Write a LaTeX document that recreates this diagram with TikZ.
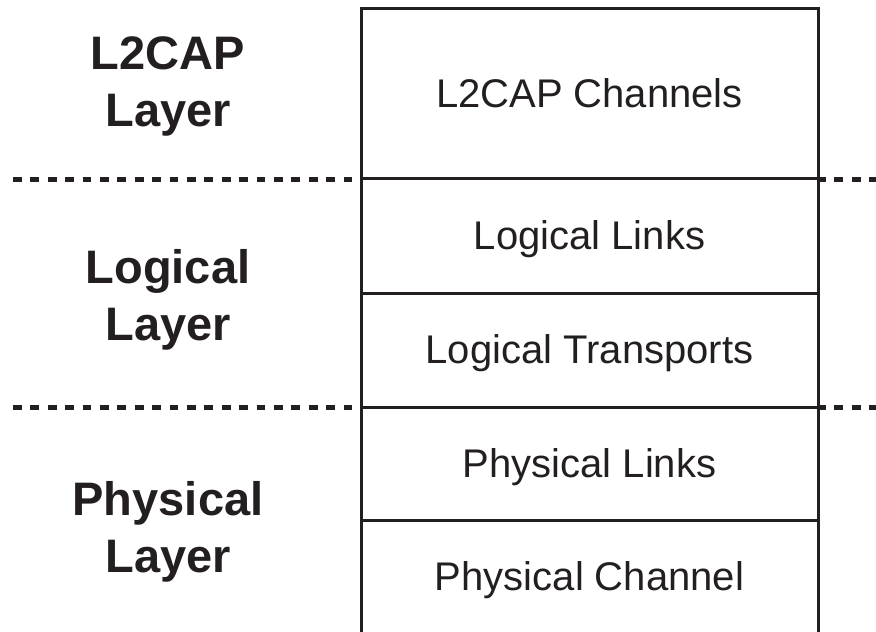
\documentclass[tikz,border=0pt]{standalone}
\usepackage{fontspec}
\setmainfont{Liberation Sans}
\definecolor{ink}{HTML}{231F20}
\begin{document}
\begin{tikzpicture}[x=1pt,y=-1pt,
  frame/.style={draw=ink,line width=3pt},
  divider/.style={draw=ink,line width=5pt,dash pattern=on 8.7pt off 8.7pt},
  cell/.style={inner sep=0pt,anchor=base,
    font=\fontsize{40}{48}\selectfont,text=ink},
  layer/.style={inner sep=0pt,anchor=north,align=center,
    font=\fontsize{47}{57.5}\selectfont\bfseries,text=ink}]
\useasboundingbox (0,0) rectangle (876,632);
\clip (0,0) rectangle (876,632);

% stack frame corners and row boundaries
\coordinate (tl) at (361,8);
\coordinate (tr) at (818,8);
\coordinate (bl) at (361,660);
\coordinate (br) at (818,660);
\coordinate (r1l) at (361,178); \coordinate (r1r) at (818,178);
\coordinate (r2l) at (361,293); \coordinate (r2r) at (818,293);
\coordinate (r3l) at (361,407); \coordinate (r3r) at (818,407);
\coordinate (r4l) at (361,520); \coordinate (r4r) at (818,520);

\draw[frame] (bl) -- (tl) -- (tr) -- (br);
\draw[frame] (r1l) -- (r1r);
\draw[frame] (r2l) -- (r2r);
\draw[frame] (r3l) -- (r3r);
\draw[frame] (r4l) -- (r4r);

% dotted layer separators
\coordinate (d1a) at (13,179);  \coordinate (d1b) at (355,179);
\coordinate (d1c) at (817,179); \coordinate (d1d) at (880,179);
\coordinate (d2a) at (13,407);  \coordinate (d2b) at (355,407);
\coordinate (d2c) at (817,407); \coordinate (d2d) at (880,407);
\draw[divider] (d1a) -- (d1b);
\draw[divider] (d1c) -- (d1d);
\draw[divider] (d2a) -- (d2b);
\draw[divider] (d2c) -- (d2d);

% stack entries (placed on their baselines)
\node[cell] (chan)   at (589.5,107)   {L2CAP Channels};
\node[cell] (llinks) at (589.5,249.5) {Logical Links};
\node[cell] (ltrans) at (589.5,363)   {Logical Transports};
\node[cell] (plinks) at (589.5,477.5) {Physical Links};
\node[cell] (pchan)  at (589.5,590)   {Physical Channel};

% layer names
\node[layer] (l2cap)    at (168,36)  {L2CAP\\Layer};
\node[layer] (logical)  at (168,249) {Logical\\Layer};
\node[layer] (physical) at (168,481) {Physical\\Layer};
\end{tikzpicture}
\end{document}
